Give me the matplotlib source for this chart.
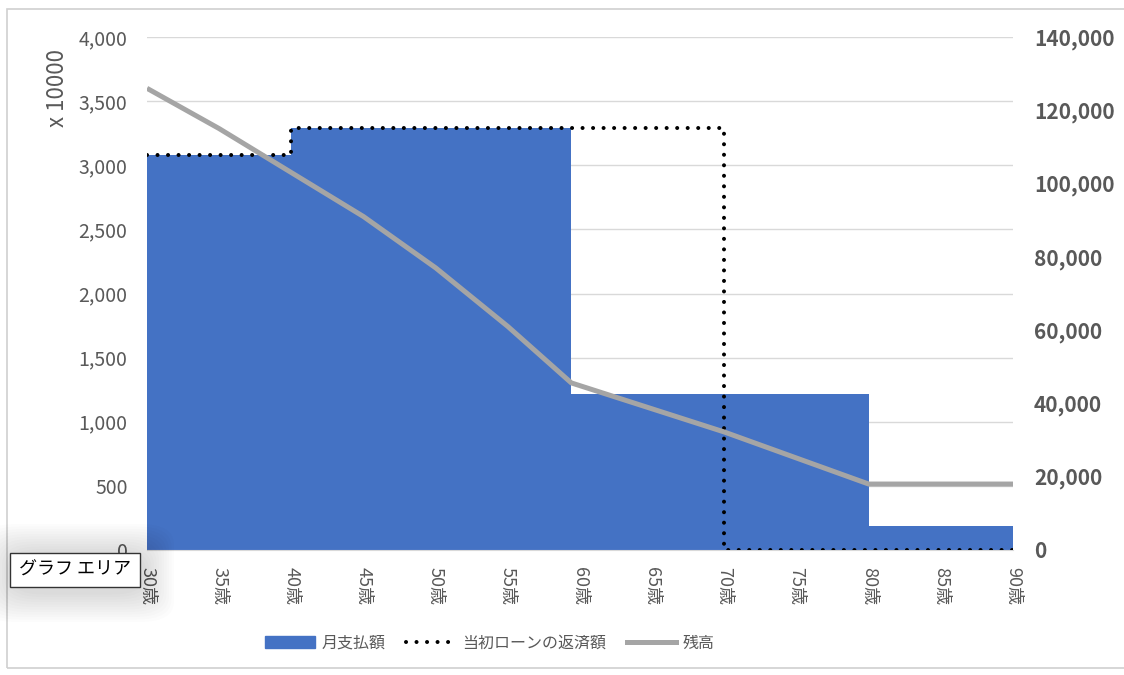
import matplotlib
matplotlib.use('Agg')
import matplotlib.pyplot as plt
from matplotlib.patches import Rectangle, FancyBboxPatch
from matplotlib.lines import Line2D
from matplotlib.ticker import FuncFormatter

plt.rcParams['font.family'] = ['Noto Sans CJK JP', 'DejaVu Sans']

# 月支払額 (x 10000) - step area
pay_age = [30, 40, 40, 59.4, 59.4, 80, 80, 90]
pay_val = [3080, 3080, 3290, 3290, 1216, 1216, 190, 190]

# 当初ローンの返済額 (x 10000) - dotted step line
orig_age = [30, 40, 40, 70, 70, 90]
orig_val = [3080, 3080, 3290, 3290, 0, 0]

# 残高 (right axis)
bal_age = [30, 35, 40, 45, 50, 55, 59.4, 70, 80, 90]
bal_val = [126000, 115000, 103000, 91000, 77000, 61000, 45600, 32200, 18000, 18000]

age_ticks = list(range(30, 91, 5))
age_labels = [f'{a}歳' for a in age_ticks]

gray_txt = '#595959'

fig = plt.figure(figsize=(11.24, 6.75), dpi=100)
ax = fig.add_axes([147/1124, 1-550/675, (1013-147)/1124, (550-37)/675])

ax.fill_between(pay_age, pay_val, 0, color='#4472c4', lw=0, zorder=2)
ax.plot(orig_age, orig_val, color='black', lw=2.9, linestyle=(0, (0.01, 2.6)),
        dash_capstyle='round', zorder=3)

ax.set_xlim(30, 90)
ax.set_ylim(0, 4000)
ax.set_yticks(range(0, 4001, 500))
ax.yaxis.set_major_formatter(FuncFormatter(lambda v, p: f'{int(v):,}'))
ax.grid(axis='y', color='#d9d9d9', lw=1, zorder=0)
ax.set_axisbelow(True)
ax.set_xticks(age_ticks)
ax.set_xticklabels(age_labels, rotation=270, fontsize=13, color=gray_txt)
ax.tick_params(axis='y', length=0, labelsize=14, labelcolor=gray_txt, pad=14)
ax.tick_params(axis='x', length=0, pad=12)
for s in ['top', 'right', 'left']:
    ax.spines[s].set_visible(False)
ax.spines['bottom'].set_color('#d9d9d9')

ax2 = ax.twinx()
ax2.plot(bal_age, bal_val, color='#a5a5a5', lw=3.6, solid_capstyle='butt', zorder=4)
ax2.set_ylim(0, 140000)
ax2.set_yticks(range(0, 140001, 20000))
ax2.yaxis.set_major_formatter(FuncFormatter(lambda v, p: f'{int(v):,}'))
ax2.tick_params(axis='y', length=0, labelsize=15, labelcolor=gray_txt, pad=15)
for lbl in ax2.get_yticklabels():
    lbl.set_fontweight('bold')
for s in ax2.spines.values():
    s.set_visible(False)

fig.text(57/1124, 1-88/675, 'x 10000', rotation=90, ha='center', va='center',
         fontsize=16, color=gray_txt)

handles = [
    Rectangle((0, 0), 1, 1, color='#4472c4'),
    Line2D([], [], color='black', lw=2.9, linestyle=(0, (0.01, 2.6)), dash_capstyle='round'),
    Line2D([], [], color='#a5a5a5', lw=3.6),
]
fig.legend(handles, ['月支払額', '当初ローンの返済額', '残高'], loc='center',
           bbox_to_anchor=(490/1124, 1-643/675), ncol=3, frameon=False,
           fontsize=11.5, labelcolor=gray_txt, handlelength=3.1, columnspacing=1.3,
           handletextpad=0.4)

# chart area border
fig.patches.append(Rectangle((7/1124, 1-668/675), 1.1, (668-9)/675, transform=fig.transFigure,
                             fill=False, edgecolor='#d0d0d0', lw=1.2))

# tooltip with soft shadow
for i in range(12):
    pad = (12 - i) * 2.5
    fig.patches.append(FancyBboxPatch(((12 - pad)/1124, 1-(592 + pad)/675), (132 + 2*pad)/1124,
                                      (38 + 2*pad)/675, boxstyle='round,pad=0,rounding_size=0.03',
                                      transform=fig.transFigure, facecolor='black', alpha=0.012, lw=0))
fig.patches.append(Rectangle((10/1124, 1-587/675), 130/1124, 34/675, transform=fig.transFigure,
                             facecolor='white', edgecolor='#333333', lw=1))
fig.text(75/1124, 1-570/675, 'グラフ エリア', ha='center', va='center', fontsize=13, color='black')

fig.savefig('out.png', dpi=100)
